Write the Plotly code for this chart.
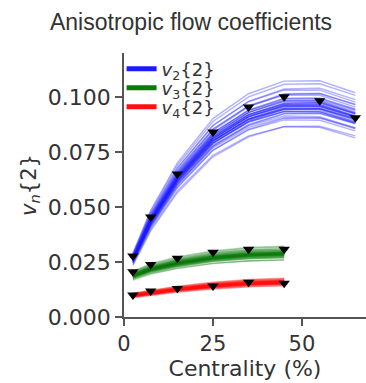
import plotly.graph_objects as go

# ---- data ----
centrality = [2.5, 7.5, 15, 25, 35, 45, 55, 65]

# ensemble central curves (model band)
v2_center = [0.0262, 0.0437, 0.0630, 0.0810, 0.0910, 0.0960, 0.0960, 0.0910]
v3_center = [0.0188, 0.0218, 0.0245, 0.0270, 0.0283, 0.0288]
v4_center = [0.0098, 0.0110, 0.0126, 0.0142, 0.0153, 0.0158]

# measured points (black triangles)
v2_obs = [0.0277, 0.0455, 0.0650, 0.0841, 0.0955, 0.1001, 0.0983, 0.0906]
v3_obs = [0.0206, 0.0239, 0.0267, 0.0294, 0.0308, 0.0308]
v4_obs = [0.0100, 0.0118, 0.0130, 0.0141, 0.0158, 0.0153]

# ensemble member scale / tilt factors
member_scale = [0.895, 0.915, 0.93, 0.94, 0.948, 0.955, 0.96, 0.965, 0.969, 0.973,
                0.976, 0.979, 0.982, 0.985, 0.987, 0.99, 0.992, 0.994, 0.996, 0.998,
                1.0, 1.002, 1.004, 1.006, 1.009, 1.012, 1.015, 1.018, 1.021, 1.025,
                1.029, 1.033, 1.038, 1.043, 1.05, 1.058, 1.066, 1.078, 1.092, 1.11]
member_tilt = [0.01, -0.02, 0.015, -0.01, 0.02, -0.015, 0.005, 0.025, -0.025, 0.0,
               0.012, -0.008, 0.018, -0.018, 0.004, -0.004, 0.022, -0.012, 0.008, -0.022,
               0.0, 0.016, -0.006, 0.01, -0.016, 0.02, -0.01, 0.006, -0.02, 0.014,
               -0.014, 0.002, 0.024, -0.024, 0.01, -0.01, 0.02, -0.005, 0.015, 0.01]

legend_labels = ["<i>v</i><sub>2</sub>{2}", "<i>v</i><sub>3</sub>{2}", "<i>v</i><sub>4</sub>{2}"]
colors = ["#1a1aff", "#0a7a0a", "#ff1010"]

series = [
    (v2_center, v2_obs, centrality[:8]),
    (v3_center, v3_obs, centrality[:6]),
    (v4_center, v4_obs, centrality[:6]),
]

fig = go.Figure()

for (center, obs, xs), col in zip(series, colors):
    for s, t in zip(member_scale, member_tilt):
        ys = [c * (s + t * (x - 2.5) / 62.5) for c, x in zip(center, xs)]
        fig.add_trace(go.Scatter(x=xs, y=ys, mode="lines",
                                 line=dict(color=col, width=1.4),
                                 opacity=0.33, showlegend=False, hoverinfo="skip"))

for (center, obs, xs) in series:
    fig.add_trace(go.Scatter(x=xs, y=obs, mode="markers",
                             marker=dict(symbol="triangle-down", size=10, color="black"),
                             showlegend=False))

legend_ids = ["legend", "legend2", "legend3"]
legend_ypos = [0.939, 0.867, 0.795]
for lab, col, lid in zip(legend_labels, colors, legend_ids):
    fig.add_trace(go.Scatter(x=[None], y=[None], mode="lines", name=lab, legend=lid,
                             line=dict(color=col, width=5)))

leg_common = dict(x=-0.01, xanchor="left", yanchor="middle", bgcolor="rgba(0,0,0,0)",
                  font=dict(family="DejaVu Sans", size=18, color="#333333"))

fig.update_layout(
    width=366, height=383,
    margin=dict(l=124, r=0, t=53, b=66),
    paper_bgcolor="white", plot_bgcolor="white",
    title=dict(text="Anisotropic flow coefficients", x=0.522, xanchor="center",
               y=1 - 22 / 383, yanchor="middle", yref="container",
               font=dict(family="Liberation Sans, Arial", size=23, color="#333333")),
    legend=dict(y=legend_ypos[0], **leg_common),
    legend2=dict(y=legend_ypos[1], **leg_common),
    legend3=dict(y=legend_ypos[2], **leg_common),
    font=dict(family="DejaVu Sans", color="#333333"),
)

fig.update_xaxes(range=[0, 68], tickvals=[0, 25, 50], showgrid=False, zeroline=False,
                 showline=True, linecolor="#555555", linewidth=1.5,
                 ticks="outside", ticklen=7, tickwidth=1.5, tickcolor="#555555",
                 tickfont=dict(family="DejaVu Sans", size=21, color="#333333"),
                 title=dict(text="Centrality (%)", standoff=4,
                            font=dict(family="DejaVu Sans", size=22, color="#333333")))
fig.update_yaxes(range=[0, 0.12], tickvals=[0, 0.025, 0.05, 0.075, 0.1], tickformat=".3f",
                 showgrid=False, zeroline=False,
                 showline=True, linecolor="#555555", linewidth=1.5,
                 ticks="outside", ticklen=7, tickwidth=1.5, tickcolor="#555555",
                 tickfont=dict(family="DejaVu Sans", size=22, color="#333333"),
                 title=dict(text="<i>v</i><sub><i>n</i></sub>{2}", standoff=6,
                            font=dict(family="DejaVu Sans", size=21, color="#333333")))

fig.write_html("out.html")
